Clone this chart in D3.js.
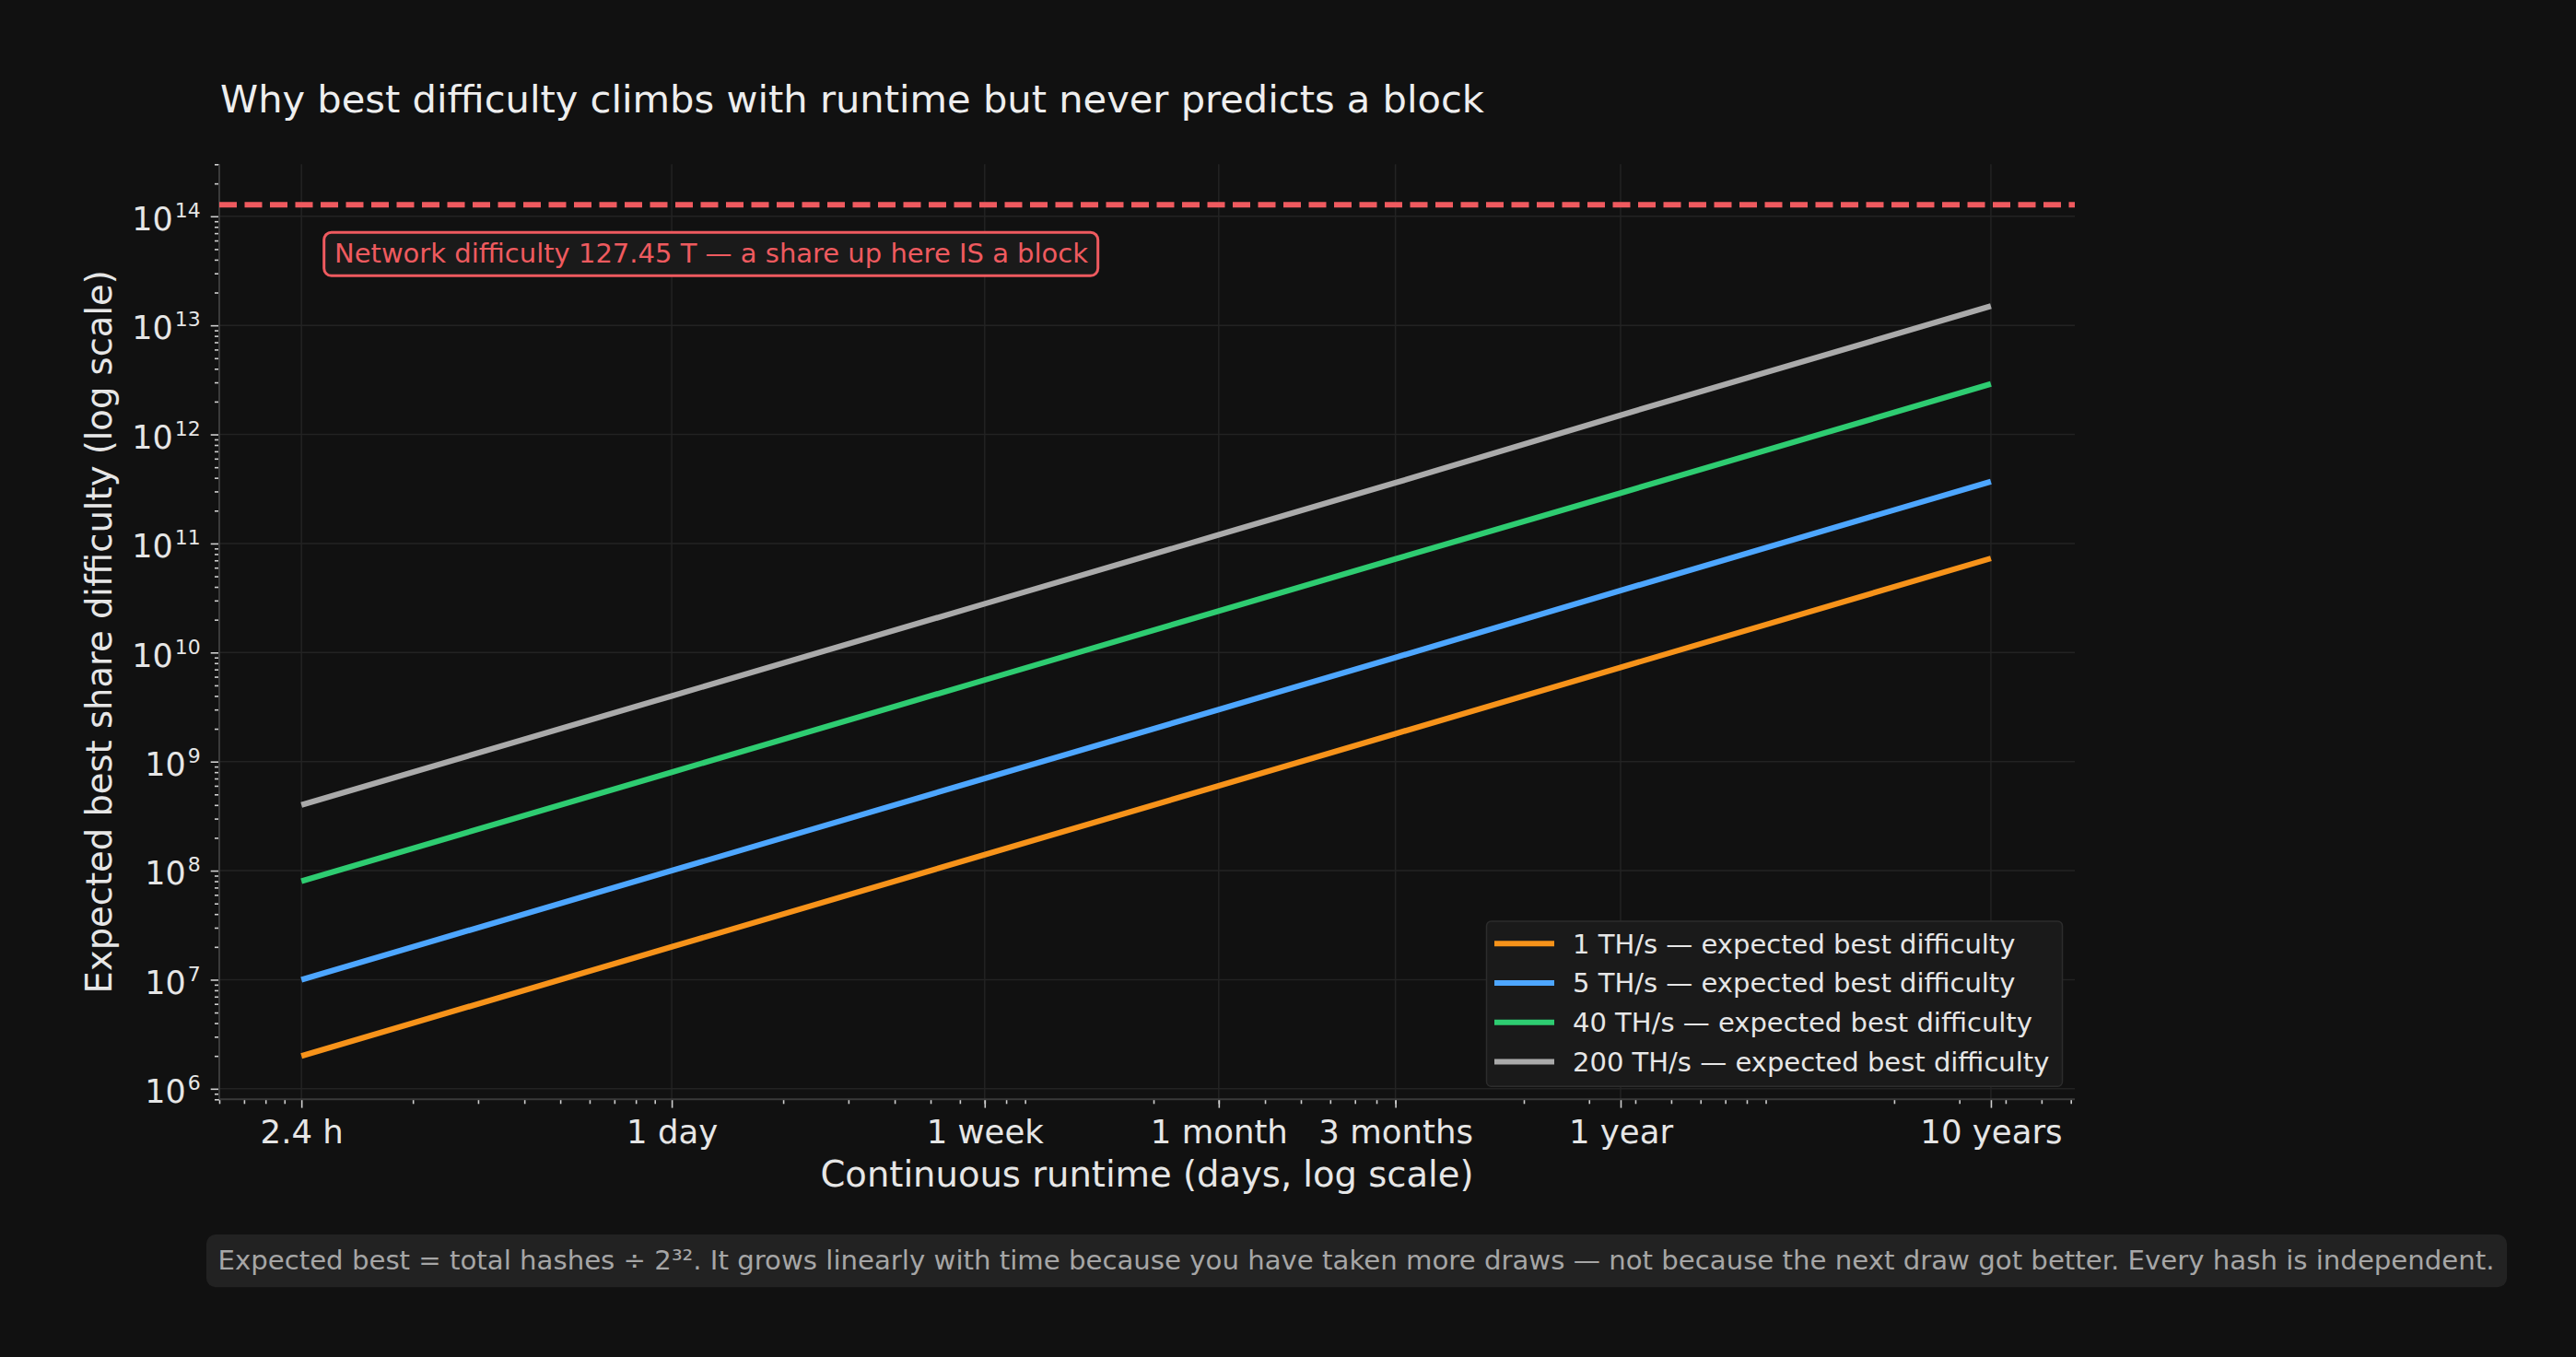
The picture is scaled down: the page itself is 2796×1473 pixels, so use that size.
<!DOCTYPE html>
<html>
<head>
<meta charset="utf-8">
<script src="https://cdn.jsdelivr.net/npm/d3@7"></script>
<style>
  html, body { margin: 0; padding: 0; background: #111111; }
  svg { display: block; }
  text { font-family: "DejaVu Sans", sans-serif; }
</style>
</head>
<body>
<svg id="chart" width="2796" height="1473"></svg>
<script>
// ---------- data ----------
const runtimeDays = [0.1, 1, 7, 30, 90, 365, 3650];
const seriesNames = ["1 TH/s", "5 TH/s", "40 TH/s", "200 TH/s"];
const best1TH   = [2.0e6, 2.0e7, 1.4e8, 6.0e8, 1.8e9, 7.3e9, 7.3e10];
const best5TH   = [1.0e7, 1.0e8, 7.0e8, 3.0e9, 9.0e9, 3.7e10, 3.7e11];
const best40TH  = [8.0e7, 8.0e8, 5.6e9, 2.4e10, 7.2e10, 2.9e11, 2.9e12];
const best200TH = [4.0e8, 4.0e9, 2.8e10, 1.2e11, 3.6e11, 1.5e12, 1.5e13];
const seriesColors = ["#f7931a", "#4da6ff", "#2ecc71", "#aaaaaa"];
const networkDifficulty = 127.45e12;

const xTickValues = [0.1, 1, 7, 30, 90, 365, 3650];
const xTickLabels = ["2.4 h", "1 day", "1 week", "1 month", "3 months", "1 year", "10 years"];
const yTickExponents = [6, 7, 8, 9, 10, 11, 12, 13, 14];

const titleText = "Why best difficulty climbs with runtime but never predicts a block";
const xLabelText = "Continuous runtime (days, log scale)";
const yLabelText = "Expected best share difficulty (log scale)";
const annotationText = "Network difficulty 127.45 T \u2014 a share up here IS a block";
const footnoteText = "Expected best = total hashes \u00f7 2\u00b3\u00b2. It grows linearly with time because you have taken more draws \u2014 not because the next draw got better. Every hash is independent.";

const seriesValues = [best1TH, best5TH, best40TH, best200TH];

// ---------- layout ----------
const plot = { left: 238, right: 2252, top: 178.3, bottom: 1193.3 };
const svg = d3.select("#chart");
svg.append("rect").attr("width", 2796).attr("height", 1473).attr("fill", "#111111");

const x = d3.scaleLog().domain([0.06, 6150]).range([plot.left, plot.right]);
const y = d3.scaleLog().domain([8e5, 3e14]).range([plot.bottom, plot.top]);

// minor ticks (2..9 x 10^k)
function minorTicks(lo, hi) {
  const out = [];
  for (let e = Math.floor(Math.log10(lo)) - 1; e <= Math.ceil(Math.log10(hi)); e++) {
    for (let m = 2; m <= 9; m++) {
      const v = m * Math.pow(10, e);
      if (v >= lo * 0.999 && v <= hi * 1.001) out.push(v);
    }
  }
  return out;
}

// ---------- grid ----------
const grid = svg.append("g");
grid.selectAll("line.vg").data(xTickValues).enter().append("line")
  .attr("x1", d => x(d)).attr("x2", d => x(d))
  .attr("y1", plot.top).attr("y2", plot.bottom)
  .attr("stroke", "#232323").attr("stroke-width", 1.5);
grid.selectAll("line.hg").data(yTickExponents).enter().append("line")
  .attr("x1", plot.left).attr("x2", plot.right)
  .attr("y1", d => y(Math.pow(10, d))).attr("y2", d => y(Math.pow(10, d)))
  .attr("stroke", "#232323").attr("stroke-width", 1.5);

// ---------- axes ----------
const tickColor = "#cfcfcf";
const spineColor = "#3a3a3a";

const xMinor = svg.append("g").attr("transform", `translate(0,${plot.bottom})`)
  .call(d3.axisBottom(x).tickValues(minorTicks(0.06, 6150)).tickSize(5).tickFormat(() => ""));
const xMajor = svg.append("g").attr("transform", `translate(0,${plot.bottom})`)
  .call(d3.axisBottom(x).tickValues(xTickValues).tickSize(9.3).tickPadding(13)
    .tickFormat((d, i) => xTickLabels[i]));
[xMinor, xMajor].forEach(g => {
  g.select(".domain").remove();
  g.selectAll(".tick line").attr("stroke", tickColor).attr("stroke-width", 1.6);
});
xMajor.selectAll(".tick text").attr("fill", "#e6e6e6").attr("font-size", 35.5)
  .attr("font-family", "DejaVu Sans");

const yMinor = svg.append("g").attr("transform", `translate(${plot.left},0)`)
  .call(d3.axisLeft(y).tickValues(minorTicks(8e5, 3e14)).tickSize(5).tickFormat(() => ""));
const yMajor = svg.append("g").attr("transform", `translate(${plot.left},0)`)
  .call(d3.axisLeft(y).tickValues(yTickExponents.map(e => Math.pow(10, e))).tickSize(9.3).tickPadding(11));
[yMinor, yMajor].forEach(g => {
  g.select(".domain").remove();
  g.selectAll(".tick line").attr("stroke", tickColor).attr("stroke-width", 1.6);
});
yMajor.selectAll(".tick text").each(function(d) {
  const t = d3.select(this);
  t.text(null).attr("fill", "#e6e6e6").attr("font-size", 35).attr("dy", "0.42em")
    .attr("font-family", "DejaVu Sans");
  t.append("tspan").text("10");
  t.append("tspan").attr("font-size", 22).attr("dy", -14).attr("dx", 2)
    .text(String(Math.round(Math.log10(d))));
});

// spines
svg.append("line").attr("x1", plot.left).attr("x2", plot.left)
  .attr("y1", plot.top).attr("y2", plot.bottom).attr("stroke", spineColor).attr("stroke-width", 2);
svg.append("line").attr("x1", plot.left).attr("x2", plot.right)
  .attr("y1", plot.bottom).attr("y2", plot.bottom).attr("stroke", spineColor).attr("stroke-width", 2);

// ---------- network difficulty line ----------
svg.append("line")
  .attr("x1", plot.left).attr("x2", plot.right)
  .attr("y1", y(networkDifficulty)).attr("y2", y(networkDifficulty))
  .attr("stroke", "#ef5a5f").attr("stroke-width", 6).attr("stroke-dasharray", "19 8.5");

// ---------- series lines ----------
const line = d3.line().x(d => x(d[0])).y(d => y(d[1]));
seriesValues.forEach((vals, i) => {
  svg.append("path")
    .datum(runtimeDays.map((d, j) => [d, vals[j]]))
    .attr("d", line)
    .attr("fill", "none")
    .attr("stroke", seriesColors[i])
    .attr("stroke-width", 6.2)
    .attr("stroke-linecap", "butt");
});

// ---------- annotation ----------
const ann = svg.append("g");
ann.append("rect").attr("x", 351.7).attr("y", 252.3).attr("width", 840).attr("height", 47)
  .attr("rx", 8).attr("fill", "#1a1a1a").attr("stroke", "#ef5a5f").attr("stroke-width", 3);
ann.append("text").attr("x", 363).attr("y", 284.5).attr("font-size", 29)
  .attr("fill", "#ef5a5f").text(annotationText);

// ---------- legend ----------
const leg = svg.append("g");
leg.append("rect").attr("x", 1613.5).attr("y", 1000).attr("width", 625).attr("height", 179.3)
  .attr("rx", 5).attr("fill", "#1a1a1a").attr("stroke", "#2c2c2c").attr("stroke-width", 1.5);
seriesNames.forEach((name, i) => {
  const cy = 1024.3 + i * 42.7;
  leg.append("line").attr("x1", 1622).attr("x2", 1687).attr("y1", cy).attr("y2", cy)
    .attr("stroke", seriesColors[i]).attr("stroke-width", 6);
  leg.append("text").attr("x", 1707).attr("y", cy).attr("dy", "0.36em")
    .attr("font-size", 29).attr("fill", "#e6e6e6")
    .text(name + " \u2014 expected best difficulty");
});

// ---------- titles ----------
svg.append("text").attr("x", 239).attr("y", 122.3).attr("font-size", 41.6)
  .attr("fill", "#eeeeee").text(titleText);
svg.append("text").attr("x", (plot.left + plot.right) / 2).attr("y", 1288)
  .attr("text-anchor", "middle").attr("font-size", 38.5).attr("fill", "#e6e6e6").text(xLabelText);
svg.append("text").attr("transform", `translate(121,${(plot.top + plot.bottom) / 2}) rotate(-90)`)
  .attr("text-anchor", "middle").attr("font-size", 38.5).attr("fill", "#e6e6e6").text(yLabelText);

// ---------- footnote ----------
svg.append("rect").attr("x", 224).attr("y", 1340).attr("width", 2497).attr("height", 57.3)
  .attr("rx", 10).attr("fill", "#222222");
svg.append("text").attr("x", 1472).attr("y", 1378.3).attr("text-anchor", "middle")
  .attr("font-size", 29.2).attr("fill", "#a6a6a6").text(footnoteText);
</script>
</body>
</html>
